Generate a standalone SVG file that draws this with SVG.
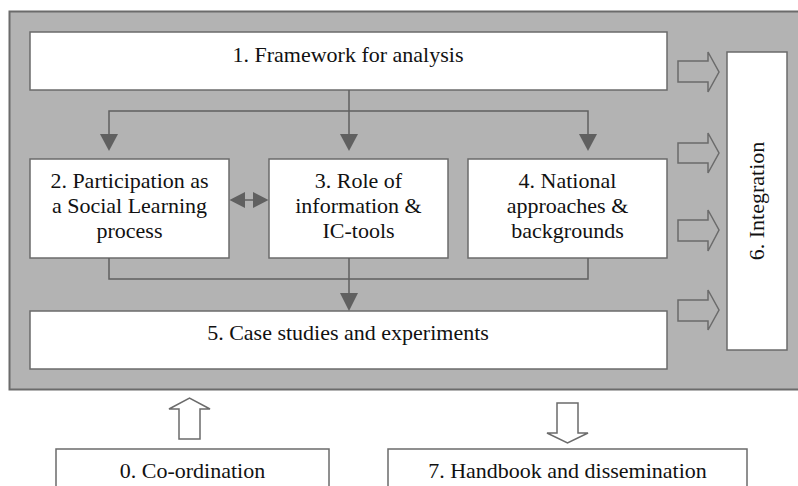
<svg xmlns="http://www.w3.org/2000/svg" width="798" height="486" viewBox="0 0 798 486">
<style>
.box{fill:#ffffff;stroke:#6b6b6b;stroke-width:1.5}
.t{font-family:'Liberation Serif','DejaVu Serif',serif;font-size:22px;fill:#111;text-anchor:middle}
.ln{fill:none;stroke:#606060;stroke-width:1.5}
.hd{fill:#606060;stroke:none}
.blk{fill:#b3b3b3;stroke:#6b6b6b;stroke-width:1.5;stroke-linejoin:miter}
.wblk{fill:#ffffff;stroke:#6b6b6b;stroke-width:1.5}
</style>
<rect x="0" y="0" width="798" height="486" fill="#ffffff"/>
<g id="frame">
<rect x="9.5" y="11.5" width="800" height="378" fill="#b3b3b3" stroke="#6b6b6b" stroke-width="2"/>
</g>
<g id="node1"><rect class="box" x="30" y="32" width="637" height="58"/><text class="t" x="348" y="62">1. Framework for analysis</text></g>
<g id="node2"><rect class="box" x="30" y="159" width="199" height="99"/><text class="t" x="129.5" y="188">2. Participation as</text><text class="t" x="129.5" y="213">a Social Learning</text><text class="t" x="129.5" y="238">process</text></g>
<g id="node3"><rect class="box" x="269" y="159" width="179" height="99"/><text class="t" x="358.5" y="188">3. Role of</text><text class="t" x="358.5" y="213">information &amp;</text><text class="t" x="358.5" y="238">IC-tools</text></g>
<g id="node4"><rect class="box" x="468" y="159" width="199" height="99"/><text class="t" x="567.5" y="188">4. National</text><text class="t" x="567.5" y="213">approaches &amp;</text><text class="t" x="567.5" y="238">backgrounds</text></g>
<g id="node5"><rect class="box" x="30" y="311" width="637" height="58"/><text class="t" x="348" y="340">5. Case studies and experiments</text></g>
<g id="node6"><rect class="box" x="727" y="52" width="60" height="298"/><text class="t" transform="translate(764,201) rotate(-90)" x="0" y="0">6. Integration</text></g>
<g id="node0"><rect class="box" x="56" y="449" width="273" height="50"/><text class="t" x="192.5" y="478">0. Co-ordination</text></g>
<g id="node7"><rect class="box" x="388" y="449" width="359" height="50"/><text class="t" x="567.5" y="478">7. Handbook and dissemination</text></g>
<g id="connectors">
<path class="ln" d="M349 90 V134 M109 134 V111 H588 V134"/>
<polygon class="hd" points="100,134 118,134 109,151"/>
<polygon class="hd" points="340,134 358,134 349,151"/>
<polygon class="hd" points="579,134 597,134 588,151"/>
<path class="ln" d="M109 258 V279 H588 V258 M349 258 V294"/>
<polygon class="hd" points="340,293 358,293 349,311"/>
<path class="ln" d="M243 200 H255"/>
<polygon class="hd" points="229.5,200 245,192 245,208"/>
<polygon class="hd" points="268.5,200 253,192 253,208"/>
<polygon class="blk" points="678,61 708,61 708,52 719,72 708,92 708,82 678,82"/>
<polygon class="blk" points="678,143 708,143 708,133 719,153 708,173 708,163 678,163"/>
<polygon class="blk" points="678,220 708,220 708,210 719,230 708,251 708,241 678,241"/>
<polygon class="blk" points="678,300 708,300 708,290 719,310 708,330 708,321 678,321"/>
<polygon class="wblk" points="179,439 179,409 169,409 189.5,398 210,409 200,409 200,439"/>
<polygon class="wblk" points="557,403 578,403 578,433 588,433 567.5,443 547,433 557,433"/>
</g>
</svg>
